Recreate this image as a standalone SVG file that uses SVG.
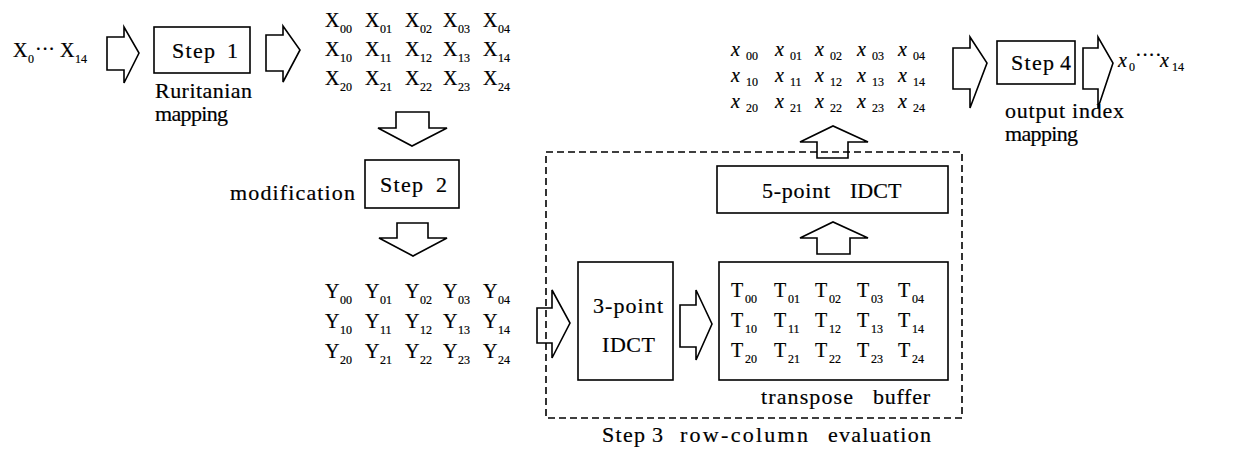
<svg xmlns="http://www.w3.org/2000/svg" width="1250" height="449" viewBox="0 0 1250 449">
<style>
text{font-family:"Liberation Serif","Times New Roman",serif;fill:#000}
.lb{font-size:22px;stroke:#000;stroke-width:0.2}
.m{font-size:20px;stroke:#000;stroke-width:0.2}
.s{font-size:12px}
.it{font-style:italic}
.box{fill:none;stroke:#000;stroke-width:1.6}
.arr{fill:none;stroke:#000;stroke-width:1.6;stroke-linejoin:miter}
.dash{fill:none;stroke:#000;stroke-width:1.6;stroke-dasharray:7 4}
</style>
<rect width="1250" height="449" fill="#fff"/>

<g id="input">
<text class="m"><tspan x="13" y="57">X</tspan><tspan class="s" x="28" y="63">0</tspan><tspan x="35" y="56">···</tspan><tspan x="60" y="57">X</tspan><tspan class="s" x="75" y="63">14</tspan></text>
</g>

<g id="step1">
<rect class="box" x="154" y="27" width="96" height="46"/>
<text class="lb" x="172" y="58" textLength="43">Step</text>
<text class="lb" x="227" y="58">1</text>
<text class="lb" x="155" y="98" textLength="97">Ruritanian</text>
<text class="lb" x="155" y="121" textLength="73">mapping</text>
</g>

<g id="X-matrix">
<text class="m"><tspan x="325" y="27">X</tspan><tspan class="s" x="340" y="33">00</tspan><tspan x="365" y="27">X</tspan><tspan class="s" x="380" y="33">01</tspan><tspan x="405" y="27">X</tspan><tspan class="s" x="420" y="33">02</tspan><tspan x="443" y="27">X</tspan><tspan class="s" x="458" y="33">03</tspan><tspan x="483" y="27">X</tspan><tspan class="s" x="498" y="33">04</tspan></text>
<text class="m"><tspan x="325" y="56">X</tspan><tspan class="s" x="340" y="62">10</tspan><tspan x="365" y="56">X</tspan><tspan class="s" x="380" y="62">11</tspan><tspan x="405" y="56">X</tspan><tspan class="s" x="420" y="62">12</tspan><tspan x="443" y="56">X</tspan><tspan class="s" x="458" y="62">13</tspan><tspan x="483" y="56">X</tspan><tspan class="s" x="498" y="62">14</tspan></text>
<text class="m"><tspan x="325" y="85">X</tspan><tspan class="s" x="340" y="91">20</tspan><tspan x="365" y="85">X</tspan><tspan class="s" x="380" y="91">21</tspan><tspan x="405" y="85">X</tspan><tspan class="s" x="420" y="91">22</tspan><tspan x="443" y="85">X</tspan><tspan class="s" x="458" y="91">23</tspan><tspan x="483" y="85">X</tspan><tspan class="s" x="498" y="91">24</tspan></text>
</g>

<g id="step2">
<rect class="box" x="365" y="160" width="94" height="48"/>
<text class="lb" x="380" y="192" textLength="43">Step</text>
<text class="lb" x="436" y="192">2</text>
<text class="lb" x="230" y="200" textLength="125">modification</text>
</g>

<g id="Y-matrix">
<text class="m"><tspan x="325" y="298">Y</tspan><tspan class="s" x="340" y="304">00</tspan><tspan x="365" y="298">Y</tspan><tspan class="s" x="380" y="304">01</tspan><tspan x="405" y="298">Y</tspan><tspan class="s" x="420" y="304">02</tspan><tspan x="443" y="298">Y</tspan><tspan class="s" x="458" y="304">03</tspan><tspan x="483" y="298">Y</tspan><tspan class="s" x="498" y="304">04</tspan></text>
<text class="m"><tspan x="325" y="328">Y</tspan><tspan class="s" x="340" y="334">10</tspan><tspan x="365" y="328">Y</tspan><tspan class="s" x="380" y="334">11</tspan><tspan x="405" y="328">Y</tspan><tspan class="s" x="420" y="334">12</tspan><tspan x="443" y="328">Y</tspan><tspan class="s" x="458" y="334">13</tspan><tspan x="483" y="328">Y</tspan><tspan class="s" x="498" y="334">14</tspan></text>
<text class="m"><tspan x="325" y="358">Y</tspan><tspan class="s" x="340" y="364">20</tspan><tspan x="365" y="358">Y</tspan><tspan class="s" x="380" y="364">21</tspan><tspan x="405" y="358">Y</tspan><tspan class="s" x="420" y="364">22</tspan><tspan x="443" y="358">Y</tspan><tspan class="s" x="458" y="364">23</tspan><tspan x="483" y="358">Y</tspan><tspan class="s" x="498" y="364">24</tspan></text>
</g>

<g id="step3">
<rect class="dash" x="546" y="152" width="416" height="266"/>
<text class="lb" x="602" y="442" textLength="43">Step</text>
<text class="lb" x="652" y="442">3</text>
<text class="lb" x="680" y="442" textLength="128">row-column</text>
<text class="lb" x="828" y="442" textLength="103">evaluation</text>
</g>

<g id="idct3">
<rect class="box" x="578" y="262" width="95" height="118"/>
<text class="lb" x="593" y="313" textLength="70">3-point</text>
<text class="lb" x="602" y="352" textLength="53">IDCT</text>
</g>

<g id="transpose">
<rect class="box" x="719" y="262" width="229" height="118"/>
<text class="m"><tspan x="731" y="297">T</tspan><tspan class="s" x="745" y="303">00</tspan><tspan x="774" y="297">T</tspan><tspan class="s" x="788" y="303">01</tspan><tspan x="815" y="297">T</tspan><tspan class="s" x="829" y="303">02</tspan><tspan x="857" y="297">T</tspan><tspan class="s" x="871" y="303">03</tspan><tspan x="898" y="297">T</tspan><tspan class="s" x="912" y="303">04</tspan></text>
<text class="m"><tspan x="731" y="327">T</tspan><tspan class="s" x="745" y="333">10</tspan><tspan x="774" y="327">T</tspan><tspan class="s" x="788" y="333">11</tspan><tspan x="815" y="327">T</tspan><tspan class="s" x="829" y="333">12</tspan><tspan x="857" y="327">T</tspan><tspan class="s" x="871" y="333">13</tspan><tspan x="898" y="327">T</tspan><tspan class="s" x="912" y="333">14</tspan></text>
<text class="m"><tspan x="731" y="357">T</tspan><tspan class="s" x="745" y="363">20</tspan><tspan x="774" y="357">T</tspan><tspan class="s" x="788" y="363">21</tspan><tspan x="815" y="357">T</tspan><tspan class="s" x="829" y="363">22</tspan><tspan x="857" y="357">T</tspan><tspan class="s" x="871" y="363">23</tspan><tspan x="898" y="357">T</tspan><tspan class="s" x="912" y="363">24</tspan></text>
<text class="lb" x="761" y="404" textLength="92">transpose</text>
<text class="lb" x="873" y="404" textLength="57">buffer</text>
</g>

<g id="idct5">
<rect class="box" x="717" y="166" width="231" height="47"/>
<text class="lb" x="762" y="198" textLength="68">5-point</text>
<text class="lb" x="850" y="198">IDCT</text>
</g>

<g id="x-matrix">
<text class="m"><tspan class="it" x="731" y="56">x</tspan><tspan class="s" x="746" y="60">00</tspan><tspan class="it" x="775" y="56">x</tspan><tspan class="s" x="790" y="60">01</tspan><tspan class="it" x="815" y="56">x</tspan><tspan class="s" x="830" y="60">02</tspan><tspan class="it" x="857" y="56">x</tspan><tspan class="s" x="872" y="60">03</tspan><tspan class="it" x="898" y="56">x</tspan><tspan class="s" x="913" y="60">04</tspan></text>
<text class="m"><tspan class="it" x="731" y="82">x</tspan><tspan class="s" x="746" y="86">10</tspan><tspan class="it" x="775" y="82">x</tspan><tspan class="s" x="790" y="86">11</tspan><tspan class="it" x="815" y="82">x</tspan><tspan class="s" x="830" y="86">12</tspan><tspan class="it" x="857" y="82">x</tspan><tspan class="s" x="872" y="86">13</tspan><tspan class="it" x="898" y="82">x</tspan><tspan class="s" x="913" y="86">14</tspan></text>
<text class="m"><tspan class="it" x="731" y="108">x</tspan><tspan class="s" x="746" y="112">20</tspan><tspan class="it" x="775" y="108">x</tspan><tspan class="s" x="790" y="112">21</tspan><tspan class="it" x="815" y="108">x</tspan><tspan class="s" x="830" y="112">22</tspan><tspan class="it" x="857" y="108">x</tspan><tspan class="s" x="872" y="112">23</tspan><tspan class="it" x="898" y="108">x</tspan><tspan class="s" x="913" y="112">24</tspan></text>
</g>

<g id="step4">
<rect class="box" x="997" y="41" width="78" height="43"/>
<text class="lb" x="1011" y="70" textLength="43">Step</text>
<text class="lb" x="1060" y="70">4</text>
<text class="lb" x="1005" y="118" textLength="60">output</text>
<text class="lb" x="1072" y="118" textLength="52">index</text>
<text class="lb" x="1005" y="141" textLength="73">mapping</text>
</g>

<g id="output">
<text class="m"><tspan class="it" x="1118" y="67">x</tspan><tspan class="s" x="1129" y="71">0</tspan><tspan x="1135" y="62">····</tspan><tspan class="it" x="1160" y="67">x</tspan><tspan class="s" x="1172" y="71">14</tspan></text>
</g>

<g id="connectors">
<path class="arr" d="M107,37 H124 V27 L139,53 L124,83 V70 H107 Z"/>
<path class="arr" d="M266,35 H283 V26 L300,50 L283,82 V71 H266 Z"/>
<path class="arr" d="M396,112 H429 V128 H447 L412,146 L378,128 H396 Z"/>
<path class="arr" d="M397,223 H428 V238 H447 L413,256 L379,238 H397 Z"/>
<path class="arr" d="M537,308 H552 V290 L570,323 L552,358 V343 H537 Z"/>
<path class="arr" d="M680,305 H696 V290 L712,324 L696,360 V347 H680 Z"/>
<path class="arr" d="M817,254 V238 H800 L833,222 L868,238 H850 V254 Z"/>
<path class="arr" d="M817,158 V142 H800 L833,126 L868,142 H848 V158 Z"/>
<path class="arr" d="M953,48 H970 V37 L987,63 L970,108 V89 H953 Z"/>
<path class="arr" d="M1083,48 H1098 V37 L1113,63 L1098,108 V89 H1083 Z"/>
</g>
</svg>
